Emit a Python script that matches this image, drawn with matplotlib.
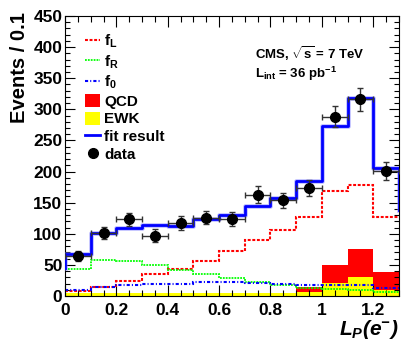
import numpy as np
import matplotlib
matplotlib.use('Agg')
import matplotlib.pyplot as plt
from matplotlib.lines import Line2D
from matplotlib.patches import Patch
from matplotlib.ticker import MultipleLocator, FuncFormatter

# fonts: Helvetica-like bold everywhere
plt.rcParams['font.family'] = ['Liberation Sans', 'DejaVu Sans']
plt.rcParams['font.weight'] = 'bold'
plt.rcParams['mathtext.fontset'] = 'custom'
plt.rcParams['mathtext.rm'] = 'Liberation Sans:bold'
plt.rcParams['mathtext.bf'] = 'Liberation Sans:bold'
plt.rcParams['mathtext.it'] = 'Liberation Sans:bold:italic'
plt.rcParams['mathtext.bfit'] = 'Liberation Sans:bold:italic'

# bins of L_P, width 0.1
edges = np.linspace(0.0, 1.3, 14)
centers = 0.5 * (edges[:-1] + edges[1:])

# data points
data = [64, 101, 123, 97, 117, 126, 124, 163, 154, 174, 288, 316, 201]
data_err = [8, 10, 11, 10, 11, 11, 11, 13, 12, 13, 17, 18, 14]

# fit components
f_L = [8, 15, 24, 35, 43, 56, 72, 90, 106, 127, 169, 178, 127]
f_R = [43, 58, 57, 50, 42, 35, 29, 23, 18, 13, 12, 10, 6]
f_0 = [10, 14, 18, 20, 20, 22, 22, 21, 20, 18, 18, 17, 13]
ewk = [5, 5, 5, 5, 5, 5, 5, 5, 5, 6, 21, 30, 10]
qcd = [0, 0, 0, 0, 0, 0, 0, 0, 0, 8, 29, 45, 29]
fit = [67, 101, 109, 114, 113, 124, 130, 145, 157, 185, 273, 319, 206]
fit_under = 45
fit_over = 138

fig = plt.figure(figsize=(4.07, 3.41), dpi=100)
ax = fig.add_axes([0.160, 0.132, 0.820, 0.821])

ewk = np.array(ewk)
qcd = np.array(qcd)
ax.stairs(ewk, edges, fill=True, color='#ffff00', zorder=1)
ax.stairs(ewk + qcd, edges, baseline=ewk, fill=True, color='#ff0000', zorder=1)

ax.stairs(f_L, edges, baseline=None, color='#ff0000', lw=1.5,
          ls=(0, (1.4, 0.8)), zorder=2)
ax.stairs(f_R, edges, baseline=None, color='#00ff00', lw=1.3,
          ls=(0, (1, 0.6)), zorder=2)
ax.stairs(f_0, edges, baseline=None, color='#0000ff', lw=1.5,
          ls=(0, (1.5, 1, 0.5, 1)), zorder=2)

# fit result, with the edges going to under/overflow
xs = np.concatenate([[edges[0]], edges, [edges[-1]]])
ys = np.concatenate([[fit_under], fit, [fit[-1], fit_over]])
ax.plot(xs, ys, drawstyle='steps-post', color='#8080ff', lw=3.4, alpha=0.5, zorder=3)
ax.plot(xs, ys, drawstyle='steps-post', color='#0000ff', lw=2, zorder=3)

ax.errorbar(centers, data, xerr=0.05, yerr=data_err, fmt='o', color='black',
            ms=7, ecolor='#333333', elinewidth=1, capsize=2, capthick=1, zorder=4)

ax.set_xlim(0, 1.3)
ax.set_ylim(0, 450)
ax.xaxis.set_major_locator(MultipleLocator(0.2))
ax.xaxis.set_minor_locator(MultipleLocator(0.05))
ax.yaxis.set_major_locator(MultipleLocator(50))
ax.yaxis.set_minor_locator(MultipleLocator(10))
ax.xaxis.set_major_formatter(FuncFormatter(lambda v, p: '%g' % round(v, 2)))
ax.tick_params(which='both', direction='in', top=True, right=True,
               labelsize=12.5, width=0.8)
ax.tick_params(axis='x', which='major', length=8, pad=5)
ax.tick_params(axis='x', which='minor', length=4)
ax.tick_params(axis='y', which='major', length=7, pad=2)
ax.tick_params(axis='y', which='minor', length=3.5)
for sp in ax.spines.values():
    sp.set_linewidth(0.8)

# axis titles, ROOT style: flush with the top / right ends
fig.text(0.047, 0.965, 'Events / 0.1', rotation=90, fontsize=14.5,
         fontweight='bold', ha='center', va='top')
fig.text(0.98, 0.035, r'$\mathbfit{L_{P}(e^{-})}$', fontsize=15,
         ha='right', va='center')

ax.text(0.57, 0.865, r'CMS, $\sqrt{\mathrm{s}}$ = 7 TeV', transform=ax.transAxes,
        fontsize=9.5, fontweight='bold', ha='left', va='center')
ax.text(0.57, 0.795, r'L$_{\mathrm{ int}}$ = 36 pb$^{\mathrm{-1}}$', transform=ax.transAxes,
        fontsize=9.5, fontweight='bold', ha='left', va='center')

handles = [
    Line2D([], [], color='#ff0000', lw=1.5, ls=(0, (1.4, 0.8))),
    Line2D([], [], color='#00ff00', lw=1.3, ls=(0, (1, 0.6))),
    Line2D([], [], color='#0000ff', lw=1.5, ls=(0, (1.5, 1, 0.5, 1))),
    Patch(facecolor='#ff0000', edgecolor='none'),
    Patch(facecolor='#ffff00', edgecolor='none'),
    Line2D([], [], color='#0000ff', lw=2),
    Line2D([], [], color='black', marker='o', ls='none', ms=7),
]
labels = [r'f$_{\mathrm{L}}$', r'f$_{\mathrm{R}}$', r'f$_{\mathrm{0}}$',
          'QCD', 'EWK', 'fit result', 'data']
leg = ax.legend(handles, labels, loc='upper left', bbox_to_anchor=(0.06, 0.94),
                frameon=False, fontsize=11, handlelength=1.0, handleheight=0.9,
                handletextpad=0.25, labelspacing=0.2, borderaxespad=0,
                borderpad=0)

fig.savefig('out.png', dpi=100)
